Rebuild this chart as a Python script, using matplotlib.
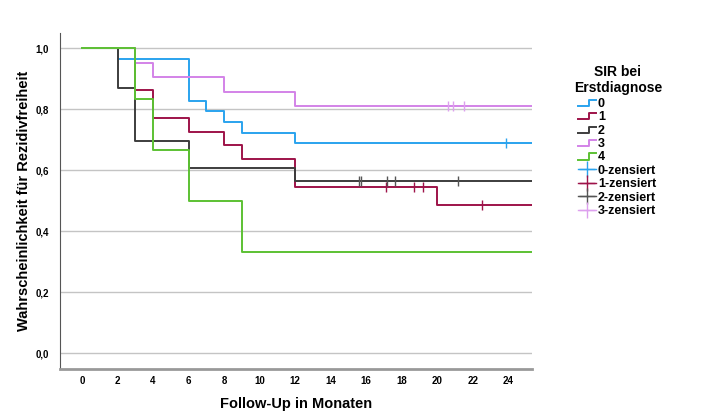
import numpy as np
import matplotlib.pyplot as plt
from matplotlib.lines import Line2D
from matplotlib.legend_handler import HandlerBase
from matplotlib.ticker import FuncFormatter

plt.rcParams['font.family'] = ['Liberation Sans', 'DejaVu Sans']
plt.rcParams['font.weight'] = 'bold'

# Kaplan-Meier Stufen je Gruppe (SIR bei Erstdiagnose)
groups = ['0', '1', '2', '3', '4']
times_0 = [0, 2, 6, 7, 8, 9, 12, 26]
surv_0 = [1.0, 0.966, 0.828, 0.793, 0.759, 0.724, 0.690, 0.690]
times_1 = [0, 3, 4, 6, 8, 9, 12, 20, 26]
surv_1 = [1.0, 0.864, 0.773, 0.727, 0.682, 0.636, 0.545, 0.485, 0.485]
times_2 = [0, 2, 3, 6, 12, 26]
surv_2 = [1.0, 0.870, 0.696, 0.609, 0.565, 0.565]
times_3 = [0, 3, 4, 8, 12, 26]
surv_3 = [1.0, 0.952, 0.905, 0.857, 0.810, 0.810]
times_4 = [0, 3, 4, 6, 9, 26]
surv_4 = [1.0, 0.833, 0.667, 0.500, 0.333, 0.333]

# zensierte Fälle (Monate)
cens_0 = [23.9]
cens_1 = [17.1, 18.7, 19.2, 22.55]
cens_2 = [15.6, 15.7, 17.2, 17.65, 21.15]
cens_3 = [20.6, 20.9, 21.5]

x_ticks = list(range(0, 25, 2))
y_ticks = [0.0, 0.2, 0.4, 0.6, 0.8, 1.0]

colors = ['#2aa3ee', '#9e1349', '#3d3d3d', '#d383e8', '#5cc133']
cens_colors = ['#2aa3ee', '#9e1349', '#555555', '#dda0ee']

times = [times_0, times_1, times_2, times_3, times_4]
survs = [surv_0, surv_1, surv_2, surv_3, surv_4]
cens = [cens_0, cens_1, cens_2, cens_3]


def surv_at(t, tt, ss):
    idx = np.searchsorted(tt, t, side='right') - 1
    return np.asarray(ss)[idx]


class StepHandler(HandlerBase):
    def create_artists(self, legend, orig_handle, xdescent, ydescent,
                       width, height, fontsize, trans):
        x0, y0 = -xdescent, -ydescent
        xs = [x0, x0 + width * 0.6, x0 + width * 0.6, x0 + width]
        ys = [y0 + height * 0.1, y0 + height * 0.1, y0 + height * 0.8, y0 + height * 0.8]
        ln = Line2D(xs, ys, color=orig_handle.get_color(), lw=1.4)
        ln.set_transform(trans)
        return [ln]


fig = plt.figure(figsize=(7.1, 4.19), dpi=100)
ax = fig.add_axes([0.0845, 0.119, 0.665, 0.802])

for tt, ss, c in zip(times, survs, colors):
    ax.step(tt, ss, where='post', color=c, lw=1.4, zorder=3)

for i, cc in enumerate(cens):
    ys = surv_at(np.array(cc), times[i], survs[i])
    ax.plot(cc, ys, ls='none', marker='|', markersize=7, mew=1.0,
            color=cens_colors[i], zorder=4)

ax.set_xlim(-1.24, 25.35)
ax.set_ylim(-0.052, 1.05)
ax.set_xticks(x_ticks)
ax.set_yticks(y_ticks)
ax.yaxis.set_major_formatter(FuncFormatter(lambda v, p: f'{v:.1f}'.replace('.', ',')))
ax.tick_params(length=0, labelsize=7)
ax.tick_params(axis='x', pad=5)
ax.tick_params(axis='y', pad=8)
ax.grid(axis='y', color='#c4c4c4', lw=1.0, zorder=0)
for s in ['top', 'right']:
    ax.spines[s].set_visible(False)
ax.spines['left'].set_color('#555555')
ax.spines['bottom'].set_color('#999999')
ax.spines['bottom'].set_linewidth(2)

ax.set_xlabel('Follow-Up in Monaten', fontsize=10.5, fontweight='bold', labelpad=8)
ax.set_ylabel('Wahrscheinlichkeit für Rezidivfreiheit', fontsize=10.5, fontweight='bold', labelpad=3)

handles = [Line2D([], [], color=c) for c in colors]
handles += [Line2D([], [], color=c, marker='+', markersize=11, mew=1.0, lw=1.0)
            for c in cens_colors]
labels = groups + [f'{g}-zensiert' for g in groups[:4]]

fig.text(618 / 710, 1 - 80 / 419, 'SIR bei\nErstdiagnose', ha='center', va='center',
         fontsize=10, fontweight='bold', linespacing=1.15)
leg = fig.legend(handles, labels,
                 handler_map={h: StepHandler() for h in handles[:5]},
                 loc='upper left', bbox_to_anchor=(578 / 710, 1 - 98 / 419), frameon=False,
                 fontsize=9, handlelength=1.45, handletextpad=0.15,
                 labelspacing=0.11, borderpad=0, borderaxespad=0)
plt.setp(leg.get_texts(), fontweight='bold')

fig.savefig('out.png', dpi=100)
